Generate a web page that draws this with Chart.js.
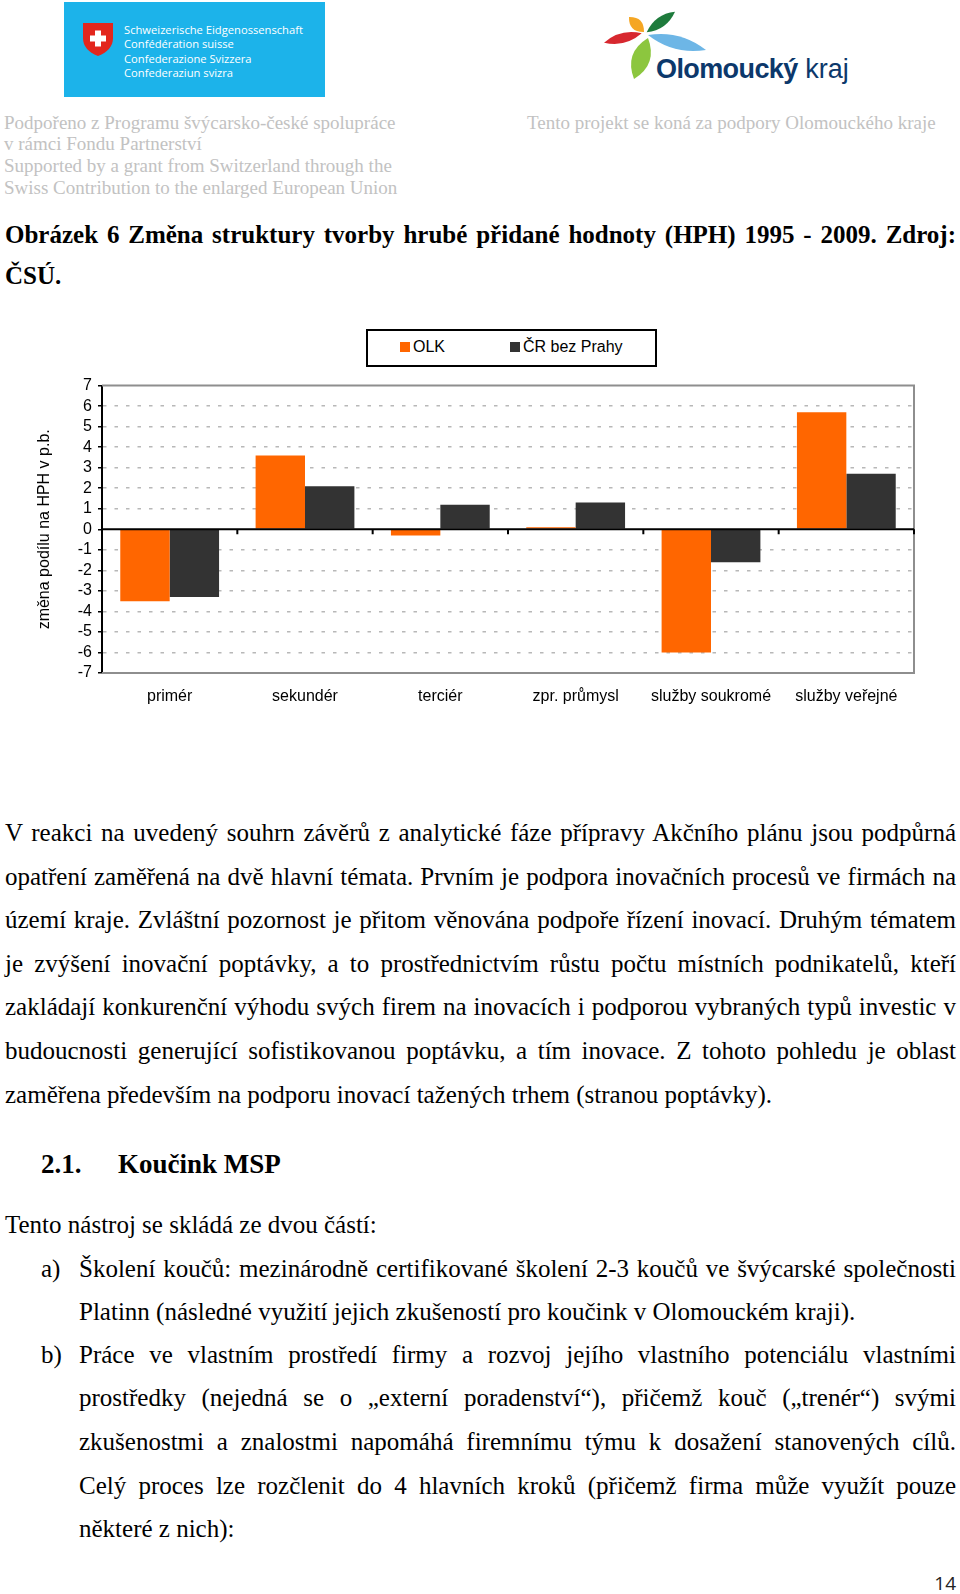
<!DOCTYPE html>
<html lang="cs">
<head>
<meta charset="utf-8">
<title>Změna struktury tvorby HPH 1995 - 2009</title>
<script src="https://cdn.jsdelivr.net/npm/chart.js@4.4.1/dist/chart.umd.min.js"></script>
<style>
  html, body { margin: 0; padding: 0; background: #fff; }
  body { position: relative; width: 960px; height: 1594px; overflow: hidden; }
  .abs { position: absolute; }
  .hdr { position: absolute; font-family: 'Liberation Serif', 'Times New Roman', serif; font-size: 19px; line-height: 22px; color: #c2c2c2; white-space: nowrap; }
  .swiss { position: absolute; left: 124px; font-family: 'Open Sans', sans-serif; font-size: 11.2px; line-height: 14px; color: #fff; white-space: nowrap; }
  .ln { position: absolute; font-family: 'Liberation Serif', 'Times New Roman', serif; font-size: 25px; line-height: 30px; color: #000; }
  .j { text-align: justify; text-align-last: justify; }
  .full { left: 5px; width: 951px; }
  .ind { left: 79px; width: 877px; }
  .cap { font-weight: bold; }
  #chartBox { position: absolute; left: 0; top: 370px; width: 960px; height: 340px; }
  #legend { position: absolute; left: 366px; top: 329px; width: 287px; height: 34px; border: 2px solid #000; font-family: 'Liberation Sans', Arial, sans-serif; font-size: 16px; }
  #legend .item { position: absolute; top: 7px; line-height: 18px; white-space: nowrap; }
  #legend .sw { display: inline-block; width: 10px; height: 10px; margin-right: 3px; vertical-align: 0px; }
</style>
</head>
<body>

<!-- header: Swiss logo -->
<svg class="abs" style="left:0;top:0" width="960" height="100" viewBox="0 0 960 100">
  <rect x="64" y="2" width="261" height="95" fill="#1cb3ea"/>
  <path d="M83,23 H113 V38 Q113,50 98,56 Q83,50 83,38 Z" fill="#e3261d"/>
  <rect x="90" y="35.5" width="16" height="6" fill="#fff"/>
  <rect x="95" y="30.5" width="6" height="16" fill="#fff"/>
  <!-- Olomoucký kraj petals -->
  <path d="M629,17 Q628.7,32.3 644,32 Q644.3,16.7 629,17Z" fill="#f5a623"/>
  <path d="M646.7,32.3 Q666.7,30.1 675,11.7 Q655,13.9 646.7,32.3Z" fill="#1e7b3c"/>
  <path d="M604,42.7 Q625.3,47.7 641.7,33.3 Q620.4,28.3 604,42.7Z" fill="#d7282f"/>
  <path d="M648,35 Q673.75,55.1 706,50 Q680.25,29.9 648,35Z" fill="#6db6e6"/>
  <path d="M648,38 Q658,64.3 634,79 Q624,52.7 648,38Z" fill="#8cc63e"/>
</svg>
<div class="swiss" style="top:23px">Schweizerische Eidgenossenschaft</div>
<div class="swiss" style="top:37px">Confédération suisse</div>
<div class="swiss" style="top:52px">Confederazione Svizzera</div>
<div class="swiss" style="top:66px">Confederaziun svizra</div>

<div class="abs" style="left:656px;top:54px;font-family:'Liberation Sans',Arial,sans-serif;font-size:27px;line-height:30px;color:#0c386b;white-space:nowrap"><span style="font-weight:bold;letter-spacing:-0.6px">Olomoucký</span> kraj</div>

<div class="hdr" style="left:4px;top:112px">Podpořeno z Programu švýcarsko-české spolupráce</div>
<div class="hdr" style="left:4px;top:133px">v rámci Fondu Partnerství</div>
<div class="hdr" style="left:4px;top:155px">Supported by a grant from Switzerland through the</div>
<div class="hdr" style="left:4px;top:177px">Swiss Contribution to the enlarged European Union</div>
<div class="hdr" style="left:527px;top:112px">Tento projekt se koná za podpory Olomouckého kraje</div>

<!-- caption -->
<div class="ln cap j full" style="top:220px">Obrázek 6 Změna struktury tvorby hrubé přidané hodnoty (HPH) 1995 - 2009. Zdroj:</div>
<div class="ln cap full" style="top:261px">ČSÚ.</div>

<!-- chart -->
<div id="legend"></div>
<div id="chartBox"><canvas id="hphChart"></canvas></div>

<!-- body text -->
<div class="ln j full" style="top:818px">V reakci na uvedený souhrn závěrů z analytické fáze přípravy Akčního plánu jsou podpůrná</div>
<div class="ln j full" style="top:861.5px">opatření zaměřená na dvě hlavní témata. Prvním je podpora inovačních procesů ve firmách na</div>
<div class="ln j full" style="top:905px">území kraje. Zvláštní pozornost je přitom věnována podpoře řízení inovací. Druhým tématem</div>
<div class="ln j full" style="top:948.5px">je zvýšení inovační poptávky, a to prostřednictvím růstu počtu místních podnikatelů, kteří</div>
<div class="ln j full" style="top:992px">zakládají konkurenční výhodu svých firem na inovacích i podporou vybraných typů investic v</div>
<div class="ln j full" style="top:1035.5px">budoucnosti generující sofistikovanou poptávku, a tím inovace. Z tohoto pohledu je oblast</div>
<div class="ln full" style="top:1080px">zaměřena především na podporu inovací tažených trhem (stranou poptávky).</div>

<div class="ln cap" style="left:41px;top:1149px;font-size:27px">2.1.</div>
<div class="ln cap" style="left:118px;top:1149px;font-size:27px">Koučink MSP</div>

<div class="ln full" style="top:1210px">Tento nástroj se skládá ze dvou částí:</div>

<div class="ln" style="left:41px;top:1254px">a)</div>
<div class="ln j ind" style="top:1254px">Školení koučů: mezinárodně certifikované školení 2-3 koučů ve švýcarské společnosti</div>
<div class="ln ind" style="top:1297px">Platinn (následné využití jejich zkušeností pro koučink v Olomouckém kraji).</div>

<div class="ln" style="left:41px;top:1340px">b)</div>
<div class="ln j ind" style="top:1340px">Práce ve vlastním prostředí firmy a rozvoj jejího vlastního potenciálu vlastními</div>
<div class="ln j ind" style="top:1383px">prostředky (nejedná se o „externí poradenství“), přičemž kouč („trenér“) svými</div>
<div class="ln j ind" style="top:1427px">zkušenostmi a znalostmi napomáhá firemnímu týmu k dosažení stanovených cílů.</div>
<div class="ln j ind" style="top:1471px">Celý proces lze rozčlenit do 4 hlavních kroků (přičemž firma může využít pouze</div>
<div class="ln ind" style="top:1514px">některé z nich):</div>

<div class="abs" style="right:4px;top:1572px;font-family:'Open Sans',sans-serif;font-size:19px;line-height:22px;color:#222">14</div>

<script>
// categories and values (change of share in p.p.)
const categories = ['primér', 'sekundér', 'terciér', 'zpr. průmysl', 'služby soukromé', 'služby veřejné'];
const olkValues = [-3.5, 3.6, -0.3, 0.1, -6.0, 5.7];
const crValues = [-3.3, 2.1, 1.2, 1.3, -1.6, 2.7];
const seriesLabels = ['OLK', 'ČR bez Prahy'];
const seriesColors = ['#ff6600', '#333333'];
const yMin = -7;
const yMax = 7;
const yTitle = 'změna podílu na HPH v p.b.';

Chart.defaults.font.family = "'Liberation Sans', Arial, sans-serif";
Chart.defaults.color = '#000';

// legend box (html, built from the series)
const legendEl = document.getElementById('legend');
const legendX = [32, 142];
seriesLabels.forEach(function (label, i) {
    const item = document.createElement('div');
    item.className = 'item';
    item.style.left = legendX[i] + 'px';
    item.innerHTML = '<span class="sw" style="background:' + seriesColors[i] + '"></span>' + label;
    legendEl.appendChild(item);
});

// gray frame, black zero line and category ticks on it
const framePlugin = {
    id: 'frame',
    afterDatasetsDraw(chart) {
        const ctx = chart.ctx;
        const a = chart.chartArea;
        const x = chart.scales.x;
        const y = chart.scales.y;
        ctx.save();
        ctx.strokeStyle = '#8e8e8e';
        ctx.lineWidth = 2;
        ctx.beginPath();
        ctx.moveTo(a.left, a.top);
        ctx.lineTo(a.right, a.top);
        ctx.lineTo(a.right, a.bottom);
        ctx.lineTo(a.left, a.bottom);
        ctx.stroke();

        const y0 = y.getPixelForValue(0);
        ctx.strokeStyle = '#000';
        ctx.beginPath();
        ctx.moveTo(a.left, y0);
        ctx.lineTo(a.right, y0);
        const step = x.getPixelForValue(1) - x.getPixelForValue(0);
        for (let i = 0; i < categories.length; i++) {
            const bx = x.getPixelForValue(i) + step / 2;
            ctx.moveTo(bx, y0);
            ctx.lineTo(bx, y0 + 5);
        }
        ctx.stroke();
        ctx.restore();
    }
};

new Chart(document.getElementById('hphChart'), {
    type: 'bar',
    data: {
        labels: categories,
        datasets: [
            { label: seriesLabels[0], data: olkValues, backgroundColor: seriesColors[0], borderWidth: 0 },
            { label: seriesLabels[1], data: crValues, backgroundColor: seriesColors[1], borderWidth: 0 }
        ]
    },
    options: {
        responsive: true,
        maintainAspectRatio: false,
        animation: false,
        categoryPercentage: 0.73,
        barPercentage: 1,
        layout: { padding: { top: 12, right: 46, left: 0, bottom: 0 } },
        plugins: {
            legend: { display: false },
            tooltip: { enabled: false }
        },
        scales: {
            x: {
                grid: { display: false, drawTicks: false },
                border: { display: false },
                ticks: { font: { size: 16 }, padding: 14, maxRotation: 0, autoSkip: false },
                afterFit(scale) { scale.height = 37; }
            },
            y: {
                min: yMin,
                max: yMax,
                ticks: { stepSize: 1, font: { size: 16 }, padding: 6, autoSkip: false },
                grid: {
                    color(c) {
                        const v = c.tick ? c.tick.value : null;
                        return (v === 0 || v === yMin || v === yMax) ? 'rgba(0,0,0,0)' : '#b8b8b8';
                    },
                    lineWidth: 1.5,
                    tickColor: '#000',
                    tickLength: 4,
                    tickWidth: 1.5,
                    tickBorderDash: []
                },
                border: { color: '#000', width: 2, dash: [3.5, 8] },
                title: {
                    display: true,
                    text: yTitle,
                    font: { size: 16 },
                    padding: { top: 35, bottom: 0 }
                },
                afterFit(scale) { scale.width = 102; }
            }
        }
    },
    plugins: [framePlugin]
});
</script>
</body>
</html>
